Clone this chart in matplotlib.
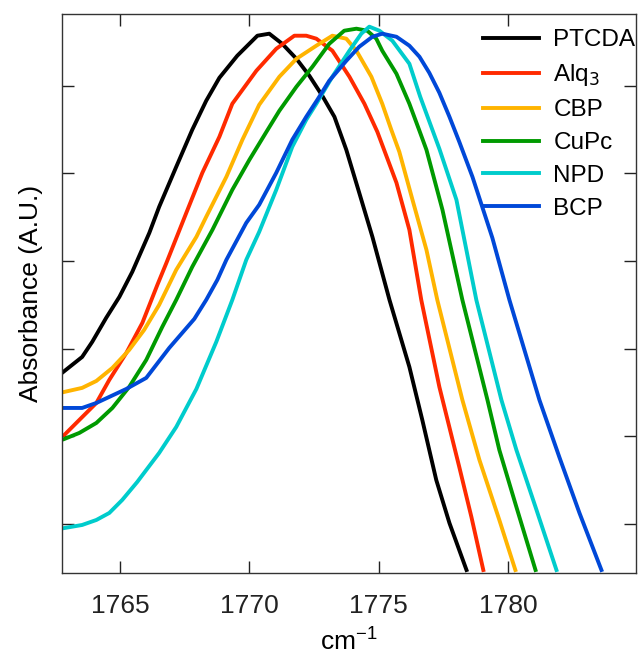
import numpy as np
import matplotlib
matplotlib.use('Agg')
import matplotlib.pyplot as plt

plt.rcParams['font.family'] = ['Liberation Sans', 'DejaVu Sans']

# spectra (wavenumber in cm-1, absorbance in arbitrary units)
ptcda_x = [1762.80, 1763.53, 1763.92, 1764.46, 1764.97, 1765.47, 1766.13, 1766.51, 1767.17,
           1767.79, 1768.33, 1768.84, 1769.53, 1770.31, 1770.77, 1771.27, 1771.82, 1772.32,
           1772.82, 1773.29, 1773.75, 1774.25, 1774.76, 1775.42, 1776.19, 1776.69, 1777.23,
           1777.74, 1778.40]
ptcda_y = [1.735, 1.906, 2.078, 2.352, 2.591, 2.877, 3.322, 3.619, 4.075,
           4.498, 4.829, 5.091, 5.342, 5.571, 5.594, 5.479, 5.308, 5.114,
           4.886, 4.646, 4.269, 3.779, 3.276, 2.557, 1.792, 1.187, 0.502,
           0.011, -0.525]

alq3_x = [1762.84, 1763.42, 1764.08, 1764.58, 1765.24, 1765.86, 1766.44, 1766.79, 1767.56,
          1768.18, 1768.84, 1769.34, 1770.27, 1771.04, 1771.74, 1772.20, 1772.59, 1773.21,
          1773.87, 1774.45, 1774.95, 1775.69, 1776.19, 1776.65, 1777.35, 1778.12, 1778.59,
          1779.05]
alq3_y = [1.016, 1.187, 1.381, 1.644, 1.952, 2.295, 2.728, 2.979, 3.550,
          4.007, 4.418, 4.795, 5.171, 5.422, 5.571, 5.571, 5.537, 5.400,
          5.103, 4.795, 4.475, 3.893, 3.356, 2.557, 1.564, 0.651, 0.080,
          -0.525]

cbp_x = [1762.84, 1763.53, 1764.08, 1764.70, 1765.35, 1765.93, 1766.51, 1767.17, 1767.95,
         1768.33, 1769.11, 1769.73, 1770.38, 1771.16, 1771.82, 1772.59, 1773.21, 1773.75,
         1774.14, 1774.72, 1775.14, 1775.49, 1775.80, 1776.31, 1776.85, 1777.27, 1778.24,
         1778.90, 1779.67, 1780.29]
cbp_y = [1.507, 1.553, 1.632, 1.781, 1.986, 2.215, 2.500, 2.900, 3.276,
         3.505, 3.961, 4.384, 4.783, 5.103, 5.308, 5.457, 5.571, 5.537,
         5.400, 5.103, 4.795, 4.498, 4.247, 3.699, 3.128, 2.557, 1.416,
         0.731, 0.046, -0.525]

cupc_x = [1762.84, 1763.42, 1764.08, 1764.70, 1765.35, 1766.01, 1766.63, 1767.17, 1767.79,
          1768.57, 1769.34, 1770.00, 1770.66, 1771.16, 1771.82, 1772.44, 1773.09, 1773.67,
          1774.14, 1774.56, 1774.91, 1775.14, 1775.69, 1776.19, 1776.58, 1776.85, 1777.47,
          1778.24, 1779.21, 1779.67, 1780.33, 1781.07]
cupc_y = [0.970, 1.039, 1.153, 1.324, 1.564, 1.872, 2.249, 2.557, 2.934,
          3.356, 3.813, 4.155, 4.475, 4.715, 4.989, 5.217, 5.479, 5.628,
          5.651, 5.628, 5.537, 5.400, 5.137, 4.795, 4.486, 4.269, 3.584,
          2.557, 1.416, 0.845, 0.194, -0.525]

npd_x = [1762.84, 1763.53, 1764.08, 1764.58, 1765.08, 1765.66, 1766.01, 1766.51, 1767.17,
         1767.95, 1768.72, 1769.34, 1769.88, 1770.38, 1771.04, 1771.66, 1772.20, 1772.59,
         1773.21, 1773.87, 1774.33, 1774.64, 1775.03, 1775.53, 1776.19, 1776.61, 1777.35,
         1778.01, 1778.78, 1779.75, 1780.33, 1781.07, 1781.88]
npd_y = [-0.046, -0.011, 0.046, 0.126, 0.274, 0.479, 0.616, 0.811, 1.107,
         1.541, 2.078, 2.557, 3.014, 3.333, 3.813, 4.304, 4.612, 4.795,
         5.103, 5.400, 5.594, 5.674, 5.628, 5.514, 5.251, 4.874, 4.281,
         3.699, 2.557, 1.416, 0.845, 0.194, -0.525]

bcp_x = [1762.84, 1763.53, 1764.08, 1764.58, 1765.24, 1766.01, 1766.90, 1767.87, 1768.33,
         1768.76, 1769.11, 1769.88, 1770.38, 1771.04, 1771.66, 1772.20, 1772.63, 1773.09,
         1773.75, 1774.25, 1774.76, 1775.14, 1775.69, 1776.19, 1776.58, 1776.96, 1777.35,
         1777.74, 1778.12, 1778.63, 1779.40, 1780.06, 1781.22, 1781.99, 1782.77, 1783.62]
bcp_y = [1.324, 1.324, 1.381, 1.450, 1.541, 1.667, 2.009, 2.340, 2.557,
         2.785, 3.014, 3.436, 3.642, 4.007, 4.384, 4.646, 4.840, 5.057,
         5.285, 5.445, 5.559, 5.594, 5.559, 5.457, 5.331, 5.148, 4.920,
         4.646, 4.361, 3.961, 3.265, 2.557, 1.416, 0.765, 0.126, -0.525]

labels = ['PTCDA', 'Alq$_3$', 'CBP', 'CuPc', 'NPD', 'BCP']
colors = ['#000000', '#ff2a00', '#ffb400', '#009a00', '#00cccc', '#0048d8']
series = [(ptcda_x, ptcda_y), (alq3_x, alq3_y), (cbp_x, cbp_y),
          (cupc_x, cupc_y), (npd_x, npd_y), (bcp_x, bcp_y)]

fig = plt.figure(figsize=(6.39, 6.61), dpi=100)
ax = fig.add_axes([0.097, 0.133, 0.898, 0.846])

for (x, y), lab, c in zip(series, labels, colors):
    ax.plot(x, y, color=c, lw=2.8, label=lab)

ax.set_xlim(1762.75, 1784.95)
ax.set_ylim(-0.56, 5.82)
ax.set_xticks([1765, 1770, 1775, 1780])
ax.set_yticks([0, 1, 2, 3, 4, 5])
ax.tick_params(direction='in', length=8.5, width=1, top=True, right=True,
               labelleft=False, labelsize=19, pad=15, colors='#222222')
for s in ax.spines.values():
    s.set_linewidth(1)
    s.set_color('#333333')

ax.set_xlabel('cm$^{\\mathregular{-1}}$', fontsize=19, labelpad=6)
ax.set_ylabel('Absorbance (A.U.)', fontsize=19, labelpad=14)

ax.legend(loc='upper right', frameon=False, fontsize=17.5, handlelength=2.3,
          handletextpad=0.6, labelspacing=0.45, borderaxespad=0,
          bbox_to_anchor=(1.016, 0.99))

fig.savefig('out.png', dpi=100)
